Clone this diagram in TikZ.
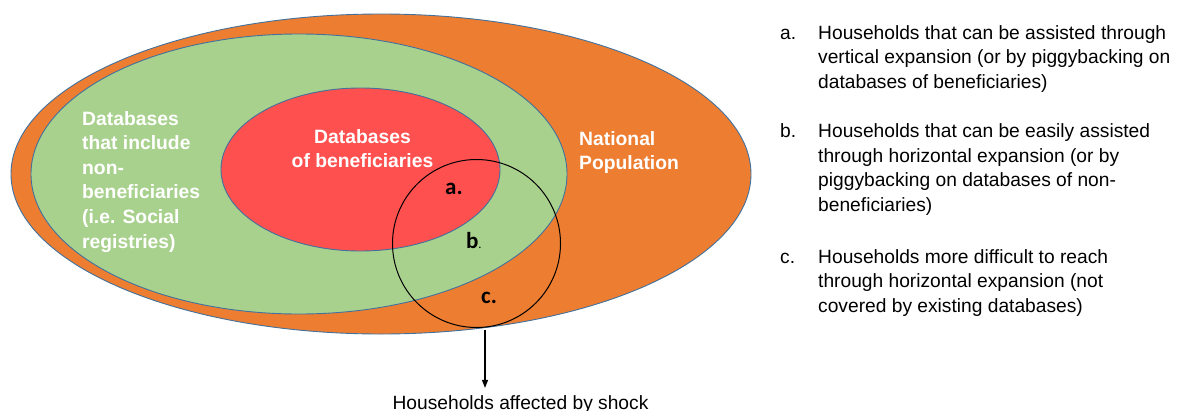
\documentclass[tikz,border=0pt]{standalone}
\usepackage{fontspec}
\setmainfont{Liberation Sans}
\newfontfamily\calib{Carlito}
\usetikzlibrary{arrows.meta}
\definecolor{popor}{RGB}{237,125,49}
\definecolor{popgr}{RGB}{169,209,142}
\definecolor{popre}{RGB}{255,80,80}
\definecolor{edgebl}{RGB}{65,113,156}
\begin{document}
\begin{tikzpicture}[x=1pt,y=-1pt,
  setshape/.style={draw=edgebl, line width=0.9pt},
  inlabel/.style={text=white, font=\fontsize{19.3}{24.6}\selectfont\bfseries, inner sep=0pt},
  legtext/.style={font=\fontsize{19.2}{24.5}\selectfont, inner sep=0pt, align=left, anchor=base west},
  zone/.style={font=\calib\fontsize{23}{23}\selectfont\bfseries, inner sep=0pt, anchor=base west}]
\useasboundingbox (0,0) rectangle (1177,410);
% nested sets
\path[setshape, fill=popor] (381,174) ellipse [x radius=370pt, y radius=160pt];
\path[setshape, fill=popgr] (299,174) ellipse [x radius=268pt, y radius=140pt];
\path[setshape, fill=popre] (360.5,169.5) ellipse [x radius=139.5pt, y radius=81.5pt];
% households affected by shock
\node[circle, draw=black, line width=1pt, minimum size=168pt, inner sep=0pt] (shock) at (476.5,243.5) {};
% inner labels (anchored at the baseline of the last line)
\node[inlabel, align=left, anchor=base west] (nonben) at (82,248) {Databases\\that include\\non-\\beneficiaries\\(i.e. Social\\registries)};
\node[inlabel, align=center, anchor=base] (benef) at (362.5,167.8) {Databases\\of beneficiaries};
\node[inlabel, align=left, anchor=base west] (natpop) at (579,169.6) {National\\Population};
% zone letters
\node[zone] (za) at (445,194) {a.};
\node[zone] (zb) at (466,248) {b{\fontsize{10}{10}\selectfont.}};
\node[zone] (zc) at (481,303) {c.};
% arrow and label
\node[legtext, anchor=base] (shocklbl) at (520.5,409) {Households affected by shock};
\coordinate (ashock) at (485,330);
\draw[line width=1.3pt, -{Triangle[length=8pt,width=6pt]}, shorten >=7pt] (ashock) -- (ashock |- shocklbl.north);
% legend (letters at first baseline, texts at last baseline)
\node[legtext] (la) at (780,39.3) {a.};
\node[legtext] (ta) at (818,88.3) {Households that can be assisted through\\vertical expansion (or by piggybacking on\\databases of beneficiaries)};
\node[legtext] (lb) at (780,137.7) {b.};
\node[legtext] (tb) at (818,211.2) {Households that can be easily assisted\\through horizontal expansion (or by\\piggybacking on databases of non-\\beneficiaries)};
\node[legtext] (lc) at (780,263) {c.};
\node[legtext] (tc) at (818,312) {Households more difficult to reach\\through horizontal expansion (not\\covered by existing databases)};
\end{tikzpicture}
\end{document}
